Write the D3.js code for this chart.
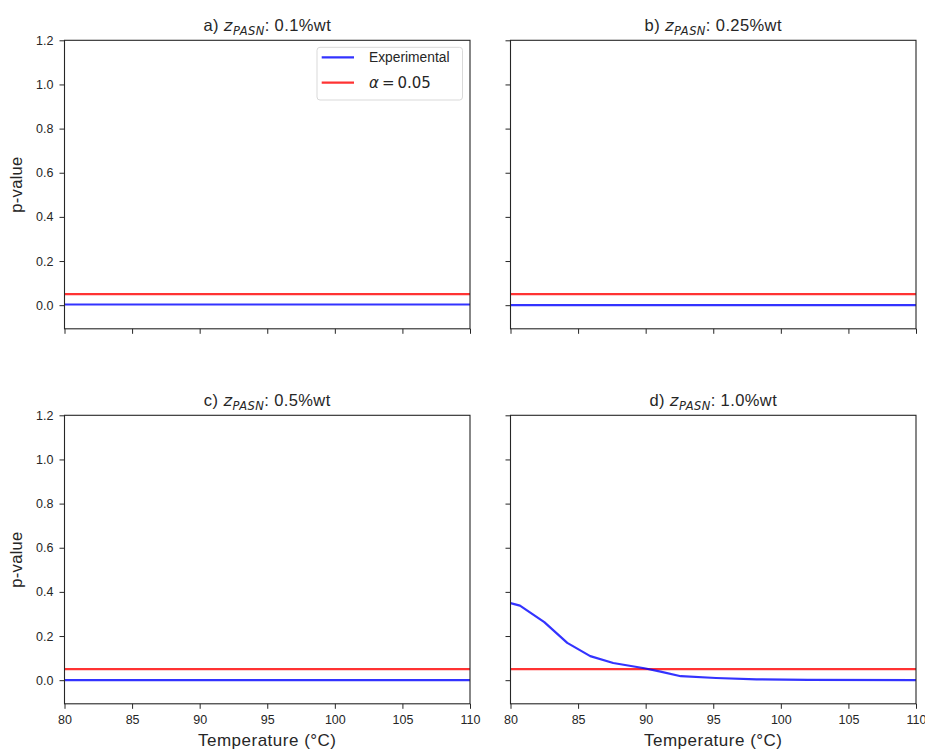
<!DOCTYPE html>
<html><head><meta charset="utf-8">
<script src="https://cdn.jsdelivr.net/npm/d3@7"></script>
<style>body{margin:0;background:#fff;font-family:"Liberation Sans",Arial,sans-serif;}</style>
</head><body><svg id="c" width="925" height="750"></svg>
<script>
const panelLetters = ["a)", "b)", "c)", "d)"];
const panelConc = ["0.1%wt", "0.25%wt", "0.5%wt", "1.0%wt"];
const xTicks = [80, 85, 90, 95, 100, 105, 110];
const yTicks = [0.0, 0.2, 0.4, 0.6, 0.8, 1.0, 1.2];
const alphaLevel = 0.05;
const tempA = [80, 110], pA = [0.003, 0.003];
const tempB = [80, 110], pB = [0.0, 0.0];
const tempC = [80, 110], pC = [0.0, 0.0];
const tempD = [80, 80.7, 82.5, 84.2, 85.9, 87.6, 89.9, 91.1, 92.6, 95.2, 98.2, 102, 110];
const pD = [0.349, 0.338, 0.263, 0.169, 0.109, 0.078, 0.054, 0.039, 0.018, 0.010, 0.004, 0.001, 0.0];

const series = [[tempA,pA],[tempB,pB],[tempC,pC],[tempD,pD]];
const svg = d3.select("#c");
const W = 405.5, H = 288.5;
const origins = [[64.5,40.3],[510.5,40.3],[64.5,415.3],[510.5,415.3]];
const dark = "#262626";
const blue = "rgba(0,0,255,0.8)", red = "rgba(255,0,0,0.8)";

series.forEach((s, i) => {
  const [ox, oy] = origins[i];
  const g = svg.append("g").attr("transform", `translate(${ox},${oy})`);
  const x = d3.scaleLinear().domain([80,110]).range([0,W]);
  const y = d3.scaleLinear().domain([-0.107,1.2]).range([H,0]);
  const row = Math.floor(i/2), col = i%2;

  const line = d3.line().x(d=>x(d[0])).y(d=>y(d[1]));
  g.append("path").datum([[80,alphaLevel],[110,alphaLevel]]).attr("d", line)
    .attr("fill","none").attr("stroke",red).attr("stroke-width",2.2);
  g.append("path").datum(s[0].map((t,k)=>[t,s[1][k]])).attr("d", line)
    .attr("fill","none").attr("stroke",blue).attr("stroke-width",2.2).attr("stroke-linejoin","round");

  const xa = d3.axisBottom(x).tickValues(xTicks).tickSizeOuter(0).tickSize(5).tickPadding(6)
    .tickFormat(row===1 ? d3.format("d") : ()=>"");
  const ya = d3.axisLeft(y).tickValues(yTicks).tickSizeOuter(0).tickSize(5).tickPadding(6)
    .tickFormat(col===0 ? d3.format(".1f") : ()=>"");
  const gx = g.append("g").attr("transform",`translate(0,${H})`).call(xa);
  const gy = g.append("g").call(ya);
  [gx,gy].forEach(a=>{
    a.select(".domain").remove();
    a.selectAll("line").attr("stroke",dark).attr("stroke-width",1);
    a.selectAll("text").attr("fill",dark).style("font-family","Liberation Sans, Arial, sans-serif").style("font-size","12.5px");
  });
  g.append("rect").attr("width",W).attr("height",H).attr("fill","none").attr("stroke",dark).attr("stroke-width",1.1);

  const t = g.append("text").attr("x",W/2).attr("y",-9).attr("text-anchor","middle")
    .attr("fill",dark).style("font-size","16.5px").style("letter-spacing","0.4px");
  t.append("tspan").text(panelLetters[i]+" ");
  t.append("tspan").attr("font-family","DejaVu Sans").attr("font-style","italic").text("z");
  t.append("tspan").attr("font-family","DejaVu Sans").attr("font-style","italic").attr("font-size","11.5px").attr("dy",3.5).text("PASN");
  t.append("tspan").attr("dy",-3.5).text(": "+panelConc[i]);

  if (col===0) {
    g.append("text").attr("transform",`translate(-43,${H/2}) rotate(-90)`).attr("text-anchor","middle")
      .attr("fill",dark).style("font-size","16.5px").style("letter-spacing","0.3px").text("p-value");
  }
  if (row===1) {
    g.append("text").attr("x",W/2).attr("y",H+42).attr("text-anchor","middle")
      .attr("fill",dark).style("font-size","17px").style("letter-spacing","0.5px").text("Temperature (°C)");
  }
  if (i===0) {
    const lg = g.append("g").attr("transform",`translate(${317-ox},${47.3-oy})`);
    lg.append("rect").attr("width",145.5).attr("height",52.7).attr("rx",3).attr("fill","#fff")
      .attr("fill-opacity",0.8).attr("stroke","#d9d9d9").attr("stroke-width",1);
    lg.append("line").attr("x1",4.7).attr("x2",37).attr("y1",10).attr("y2",10).attr("stroke",blue).attr("stroke-width",2.2);
    lg.append("line").attr("x1",4.7).attr("x2",37).attr("y1",35.4).attr("y2",35.4).attr("stroke",red).attr("stroke-width",2.2);
    lg.append("text").attr("x",52).attr("y",15).attr("fill",dark).style("font-size","13.8px").text("Experimental");
    const at = lg.append("text").attr("x",52).attr("y",41).attr("fill",dark).style("font-size","15px").attr("font-family","DejaVu Sans");
    at.append("tspan").attr("font-style","italic").text("α");
    at.append("tspan").text("\u2009=\u20090.05");
  }
});
</script></body></html>
